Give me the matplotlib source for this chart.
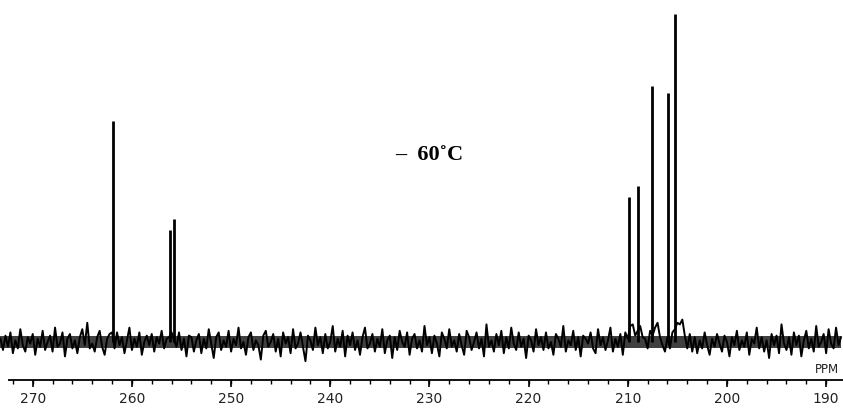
import numpy as np
import matplotlib
matplotlib.use("Agg")
import matplotlib.pyplot as plt

# 13C spectrum at -60 C, heights in pixel-like units above the baseline
peak_ppm = [261.9, 256.2, 255.8, 209.86, 208.98, 207.6, 205.96, 205.2]
peak_height = [221, 112, 123, 145, 156, 256, 249, 328]

# baseline trace read every 0.25 ppm from 273.25 down to 188.5
# (units of about 1.6 px)
noise_txt = """
2 -5 4 -3 6 -7 1 -4 8 -2 -6 3 -1 5 -8 2 -3 7 -5 0
4 -6 9 -3 -1 6 -9 2 5 -4 1 -7 3 8 -2 12 -4 -1 -6 3
7 -3 -8 2 5 6 -4 6 -2 3 -7 1 9 -5 2 -3 6 -8 0 4
-2 5 -6 3 -1 7 -4 2 3 6 1 -3 6 -5 2 -9 4 3 -6 1
5 -7 2 -4 8 -1 -10 3 6 -5 1 -3 7 -6 2 -2 9 -4 0 -8
3 6 -5 1 -2 -11 4 7 -3 0 5 -6 2 -9 6 -1 3 -7 8 -4
-1 6 -3 -12 4 1 -5 9 -2 3 -7 5 -4 0 10 -6 2 -3 7 -9
4 -2 6 -5 1 -8 3 9 -4 -1 5 -6 2 -3 8 -7 1 4 -10 3
-5 7 0 -3 6 -8 2 5 -4 1 -6 10 -2 3 -7 4 -1 -9 6 2
-4 8 -3 1 -6 5 -2 -8 7 3 -5 0 6 -4 2 -9 11 -3 1 -6
5 -2 7 -7 3 -4 9 -1 -5 6 -3 2 -10 4 1 -6 8 -2 3 -5
6 -4 0 -8 5 2 -3 10 -6 1 -2 7 -5 3 -9 4 2 -1 6 -4
-7 8 -2 3 -5 1 9 -6 2 -3 5 -8 6 2 10 11 4 7 10 3
2 -4 7 4 9 12 3 -2 -6 3 -4 6 8 12 11 14 4 -4 5 -6
3 -7 1 -4 6 -2 -8 2 -3 5 -1 -6 4 0 -9 3 -2 7 -5 1
-3 6 -8 2 -1 9 -4 3 -6 1 -10 5 -2 4 -7 11 -1 -5 3 -8
6 -2 4 -9 1 7 -4 2 -6 10 -3 0 5 -7 8 -1 -4 9 -2 3
"""
noise = np.array(noise_txt.split(), dtype=float)
noise_ppm = 273.25 - 0.25 * np.arange(len(noise))
noise_unit = 1.6
core = 6.0   # half thickness of the solid noise core, px

tick_labels = [270, 260, 250, 240, 230, 220, 210, 200, 190]

fig = plt.figure(figsize=(8.43, 4.08), dpi=100)
ax = fig.add_axes([0, 0, 1, 1])
ax.set_xlim(273.3, 188.3)
ax.set_ylim(-66, 342)
ax.axis("off")

y = noise * noise_unit
ax.fill_between(noise_ppm, -core, core, color="black", lw=0, alpha=0.75)
ax.plot(noise_ppm, y, color="black", lw=1.4)
ax.vlines(peak_ppm, 0, peak_height, color="black", lw=2.0)

# ppm scale
ax.hlines(-38, 272.5, 188.3, color="black", lw=1.3)
minor = np.arange(190, 273, 2)
ax.vlines(minor, -42, -38, color="black", lw=1.0)
ax.vlines(tick_labels, -45, -38, color="black", lw=1.2)
for t in tick_labels:
    ax.text(t, -57, str(t), ha="center", va="center", fontsize=10, color="#222222")
ax.text(189.9, -34, "PPM", ha="center", va="bottom", fontsize=8.5, color="#222222")

ax.text(230.0, 187, "\u2013  60\u02daC", ha="center", va="center", fontsize=16,
        fontweight="bold", family="Liberation Serif")

fig.savefig("out.png", dpi=100)
